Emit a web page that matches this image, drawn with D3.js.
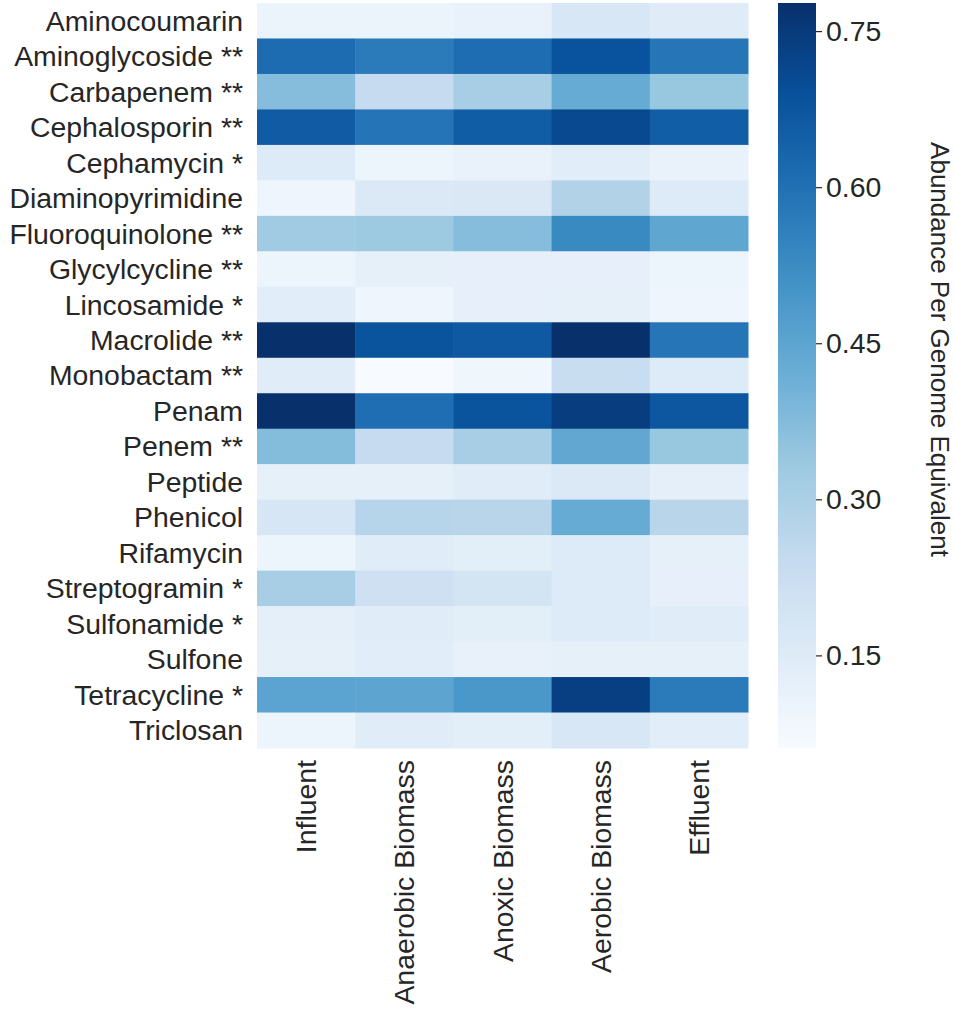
<!DOCTYPE html>
<html>
<head>
<meta charset="utf-8">
<script src="https://cdn.jsdelivr.net/npm/d3@7"></script>
<style>
  body { margin: 0; background: #fff; }
  text { font-family: "Liberation Sans", Arial, sans-serif; fill: #262626; }
</style>
</head>
<body>
<div id="chart"></div>
<script>
// 行：抗生素类别
const drugClasses = [
  "Aminocoumarin", "Aminoglycoside **", "Carbapenem **", "Cephalosporin **",
  "Cephamycin *", "Diaminopyrimidine", "Fluoroquinolone **", "Glycylcycline **",
  "Lincosamide *", "Macrolide **", "Monobactam **", "Penam", "Penem **",
  "Peptide", "Phenicol", "Rifamycin", "Streptogramin *", "Sulfonamide *",
  "Sulfone", "Tetracycline *", "Triclosan"
];

// 列：采样点
const samples = ["Influent", "Anaerobic Biomass", "Anoxic Biomass", "Aerobic Biomass", "Effluent"];

// 每列的丰度（与 drugClasses 顺序一致）
const influent  = [0.103, 0.612, 0.370, 0.660, 0.155, 0.095, 0.325, 0.100, 0.140, 0.777, 0.145,
                   0.775, 0.375, 0.125, 0.180, 0.100, 0.310, 0.130, 0.125, 0.455, 0.100];
const anaerobic = [0.103, 0.570, 0.240, 0.590, 0.100, 0.160, 0.330, 0.125, 0.095, 0.680, 0.061,
                   0.605, 0.240, 0.125, 0.275, 0.145, 0.210, 0.145, 0.140, 0.450, 0.145];
const anoxic    = [0.110, 0.610, 0.310, 0.655, 0.110, 0.165, 0.370, 0.120, 0.120, 0.665, 0.090,
                   0.680, 0.310, 0.145, 0.270, 0.135, 0.190, 0.135, 0.115, 0.490, 0.135];
const aerobic   = [0.175, 0.684, 0.430, 0.710, 0.140, 0.285, 0.530, 0.120, 0.125, 0.775, 0.230,
                   0.740, 0.440, 0.160, 0.430, 0.155, 0.155, 0.155, 0.125, 0.735, 0.175];
const effluent  = [0.146, 0.585, 0.340, 0.650, 0.110, 0.155, 0.445, 0.100, 0.095, 0.585, 0.155,
                   0.670, 0.340, 0.130, 0.270, 0.125, 0.120, 0.145, 0.125, 0.570, 0.140];

const colorTicks = [0.15, 0.30, 0.45, 0.60, 0.75];

const series = [influent, anaerobic, anoxic, aerobic, effluent];

// 展开成单元格
const cells = [];
samples.forEach((s, j) => {
  drugClasses.forEach((c, i) => {
    cells.push({sample: s, cls: c, value: series[j][i]});
  });
});

// matplotlib 的 Blues 色带
const bluesStops = ["#f7fbff", "#deebf7", "#c6dbef", "#9ecae1", "#6baed6",
                    "#4292c6", "#2171b5", "#08519c", "#08306b"];
const blues = d3.piecewise(d3.interpolateRgb, bluesStops);

const extent = d3.extent(cells, d => d.value);
const color = d3.scaleSequential(blues).domain(extent);

const width = 954, height = 1015;
const hm = {left: 257, right: 748, top: 3, bottom: 748};
const cb = {left: 778, right: 816};
const fontSize = 28.4;

const svg = d3.select("#chart")
  .append("svg")
  .attr("width", width)
  .attr("height", height);

const x = d3.scaleBand().domain(samples).range([hm.left, hm.right]);
const y = d3.scaleBand().domain(drugClasses).range([hm.top, hm.bottom]);

// 绘制热图格子
svg.append("g")
  .selectAll("rect")
  .data(cells)
  .join("rect")
  .attr("x", d => x(d.sample))
  .attr("y", d => y(d.cls))
  .attr("width", x.bandwidth() + 0.5)
  .attr("height", y.bandwidth() + 0.5)
  .attr("fill", d => color(d.value));

// 左侧类别标签
svg.append("g")
  .attr("transform", `translate(${hm.left},0)`)
  .call(d3.axisLeft(y).tickSize(0).tickPadding(14))
  .call(g => g.select(".domain").remove())
  .call(g => g.selectAll("text")
    .attr("font-size", fontSize)
    .attr("font-family", null)
    .attr("fill", "#262626")
    .attr("dy", "0.35em"));

// 底部采样点标签（竖排）
svg.append("g")
  .attr("transform", `translate(0,${hm.bottom})`)
  .call(d3.axisBottom(x).tickSize(0).tickPadding(0))
  .call(g => g.select(".domain").remove())
  .call(g => g.selectAll("text")
    .attr("font-size", fontSize)
    .attr("font-family", null)
    .attr("fill", "#262626")
    .attr("text-anchor", "end")
    .attr("dy", null)
    .attr("y", 0)
    .attr("transform", "translate(0,12) rotate(-90)")
    .attr("dominant-baseline", "central")
    .attr("x", 0));

// 颜色条渐变
const defs = svg.append("defs");
const grad = defs.append("linearGradient")
  .attr("id", "cbar")
  .attr("x1", 0).attr("y1", 1).attr("x2", 0).attr("y2", 0);
d3.range(0, 1.0001, 0.02).forEach(t => {
  grad.append("stop")
    .attr("offset", t)
    .attr("stop-color", blues(t));
});

svg.append("rect")
  .attr("x", cb.left)
  .attr("y", hm.top)
  .attr("width", cb.right - cb.left)
  .attr("height", hm.bottom - hm.top)
  .attr("fill", "url(#cbar)");

const cy = d3.scaleLinear().domain(extent).range([hm.bottom, hm.top]);

svg.append("g")
  .attr("transform", `translate(${cb.right},0)`)
  .call(d3.axisRight(cy).tickValues(colorTicks).tickFormat(d3.format(".2f")).tickSize(6).tickPadding(4))
  .call(g => g.select(".domain").remove())
  .call(g => g.selectAll(".tick line").attr("stroke", "#262626").attr("stroke-width", 1.2))
  .call(g => g.selectAll("text")
    .attr("font-size", fontSize)
    .attr("font-family", null)
    .attr("fill", "#262626"));

// 颜色条标题
svg.append("text")
  .attr("transform", `translate(940,${(hm.top + hm.bottom) / 2 - 26}) rotate(90)`)
  .attr("text-anchor", "middle")
  .attr("dominant-baseline", "central")
  .attr("font-size", 26)
  .text("Abundance Per Genome Equivalent");
</script>
</body>
</html>
